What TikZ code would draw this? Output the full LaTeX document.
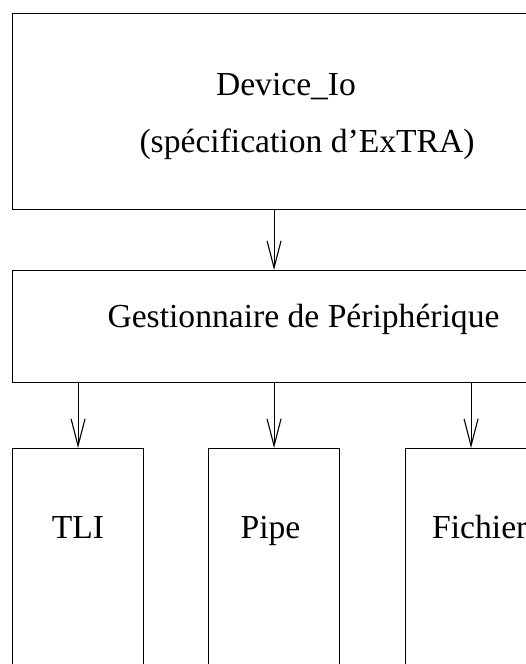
\documentclass[tikz,border=0pt]{standalone}
\usepackage{fontspec}
\setmainfont{Liberation Serif}
\usetikzlibrary{arrows.meta}

\begin{document}
\begin{tikzpicture}[x=1pt, y=-1pt]
        % Styles for the boxes, the labels and the arrows
        \tikzset{
            box/.style={draw, line width=1.1pt, rectangle, inner sep=0pt, anchor=north west},
            lbl/.style={font=\fontsize{33.6}{40}\selectfont, inner sep=0pt, anchor=base},
            fleche/.style={line width=1.1pt, -{Straight Barb[length=27pt, width=14pt, line width=1.1pt]}},
        }

        % Page frame, the boxes run out of it on the right and below
        \useasboundingbox (0, 0) rectangle (526, 664);
        \clip (0, 0) rectangle (526, 664);

        % Boxes
        \node[box, minimum width=540pt, minimum height=196pt] (devio) at (12, 13) {};
        \node[box, minimum width=540pt, minimum height=112pt] (gest) at (12, 270) {};
        \node[box, minimum width=131pt, minimum height=240pt] (tli) at (12, 448) {};
        \node[box, minimum width=131pt, minimum height=240pt] (pipe) at (208, 448) {};
        \node[box, minimum width=131pt, minimum height=240pt] (fich) at (405, 448) {};

        % Labels
        \node[lbl] (devtxt) at (286, 95) {Device\_Io};
        \node[lbl] (spectxt) at (307, 152) {(spécification d’ExTRA)};
        \node[lbl] (gesttxt) at (303.5, 327) {Gestionnaire de Périphérique};
        \node[lbl] (tlitxt) at (78, 538) {TLI};
        \node[lbl] (pipetxt) at (270.5, 538) {Pipe};
        \node[lbl, anchor=base west] (fichtxt) at (432, 538) {Fichier};

        % Arrows
        \begin{scope}[fleche]
            \draw (devio.south -| pipe.north) -- (gest.north -| pipe.north);
            \draw (gest.south -| tli.north) -- (tli.north);
            \draw (gest.south -| pipe.north) -- (pipe.north);
            \draw (gest.south -| fich.north) -- (fich.north);
        \end{scope}

\end{tikzpicture}
\end{document}
